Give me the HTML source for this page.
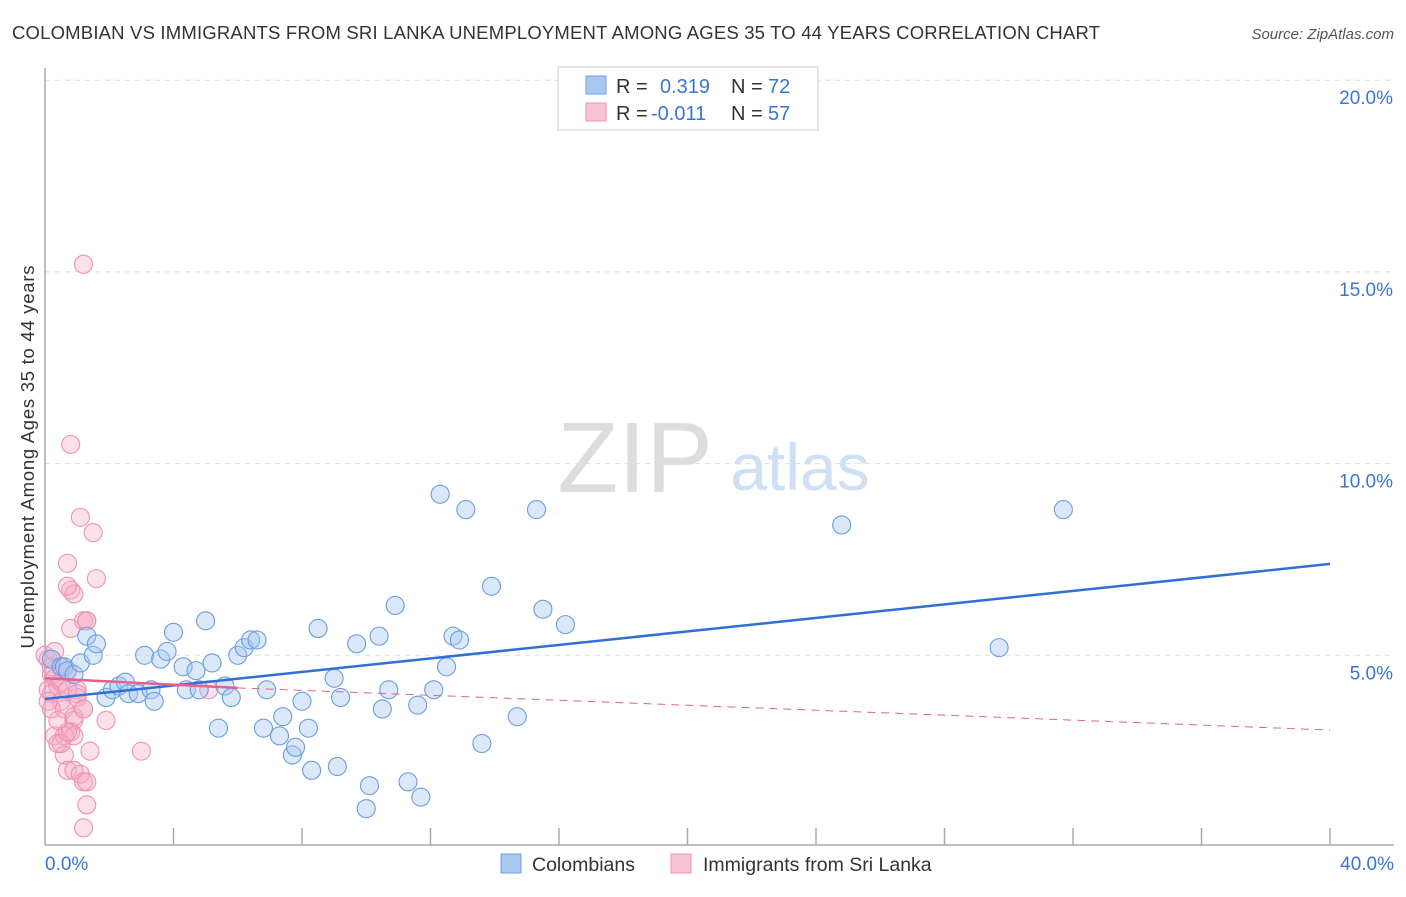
<!DOCTYPE html>
<html><head><meta charset="utf-8"><style>
body{margin:0;background:#fff;font-family:"Liberation Sans",sans-serif;}
svg text{font-family:"Liberation Sans",sans-serif;}
</style></head><body>
<svg id="chart" width="1406" height="892">
<text x="12" y="39" font-size="18.5" fill="#333" textLength="1088">COLOMBIAN VS IMMIGRANTS FROM SRI LANKA UNEMPLOYMENT AMONG AGES 35 TO 44 YEARS CORRELATION CHART</text>
<text x="1394" y="39" font-size="15" fill="#555" font-style="italic" text-anchor="end">Source: ZipAtlas.com</text>
<text x="635" y="492" font-size="100" fill="#ddd" font-family="Liberation Serif" text-anchor="middle">ZIP</text>
<text x="800" y="490" font-size="66" fill="#cfe0f5" text-anchor="middle">atlas</text>
<g id="grid"></g><g id="axes"></g><g id="marks"></g>
<text transform="translate(34,457) rotate(-90)" font-size="18.5" fill="#333" text-anchor="middle" textLength="383">Unemployment Among Ages 35 to 44 years</text>
<g>
<rect x="558" y="67" width="260" height="63" fill="#fff" stroke="#ccc"/>
<rect x="586" y="76" width="20" height="18" fill="#a9c8f0" stroke="#6f9fe0"/>
<rect x="586" y="103" width="20" height="18" fill="#f8c3d3" stroke="#eb93b1"/>
<text x="616" y="93" font-size="20" fill="#333">R =</text><text x="660" y="93" font-size="20" fill="#3a74d8">0.319</text>
<text x="731" y="93" font-size="20" fill="#333">N =</text><text x="768" y="93" font-size="20" fill="#3a74d8">72</text>
<text x="616" y="120" font-size="20" fill="#333">R =</text><text x="651" y="120" font-size="20" fill="#3a74d8">-0.011</text>
<text x="731" y="120" font-size="20" fill="#333">N =</text><text x="768" y="120" font-size="20" fill="#3a74d8">57</text>
</g>
<g>
<rect x="501" y="854" width="20" height="19" fill="#a9c8f0" stroke="#6f9fe0"/>
<text x="532" y="871" font-size="19.5" fill="#333">Colombians</text>
<rect x="671" y="854" width="20" height="19" fill="#f8c3d3" stroke="#eb93b1"/>
<text x="703" y="871" font-size="19.5" fill="#333">Immigrants from Sri Lanka</text>
</g>
</svg>
<script>
const blueX=[0.2,0.5,0.6,0.7,0.9,1.1,1.3,1.5,1.6,1.9,2.1,2.3,2.5,2.6,2.9,3.1,3.3,3.4,3.6,3.8,4.0,4.3,4.4,4.7,4.8,5.0,5.2,5.4,5.6,5.8,6.0,6.2,6.4,6.6,6.8,6.9,7.3,7.4,7.7,7.8,8.0,8.2,8.3,8.5,9.0,9.1,9.2,9.7,10.0,10.1,10.4,10.5,10.7,10.9,11.3,11.6,11.7,12.1,12.3,12.5,12.7,12.9,13.1,13.6,13.9,14.7,15.3,15.5,16.2,24.8,29.7,31.7];
const blueY=[4.9,4.7,4.7,4.6,4.5,4.8,5.5,5.0,5.3,3.9,4.1,4.2,4.3,4.0,4.0,5.0,4.1,3.8,4.9,5.1,5.6,4.7,4.1,4.6,4.1,5.9,4.8,3.1,4.2,3.9,5.0,5.2,5.4,5.4,3.1,4.1,2.9,3.4,2.4,2.6,3.8,3.1,2.0,5.7,4.4,2.1,3.9,5.3,1.0,1.6,5.5,3.6,4.1,6.3,1.7,3.7,1.3,4.1,9.2,4.7,5.5,5.4,8.8,2.7,6.8,3.4,8.8,6.2,5.8,8.4,5.2,8.8];
const pinkX=[0,0.1,0.2,0.2,0.3,0.4,0.1,0.2,0.5,0.5,0.6,0.7,0.8,0.8,0.9,0.7,0.8,0.9,0.9,1.0,1.0,1.1,1.2,1.2,1.3,1.3,1.5,1.6,0.6,0.8,0.9,0.6,0.7,0.9,1.1,1.2,1.3,1.3,1.2,1.4,1.9,3.0,5.1,0.3,0.4,0.5,0.7,0.2,0.4,0.5,0.7,1.0,1.2,1.2,0.7,0.3,0.1];
const pinkY=[5.0,4.9,4.7,4.5,4.4,4.2,4.1,4.0,4.7,3.8,3.6,4.6,10.5,6.7,6.6,7.4,5.7,3.3,3.4,4.1,3.9,8.6,15.2,5.9,5.9,5.9,8.2,7.0,2.9,3.0,2.9,2.4,2.0,2.0,1.9,1.7,1.7,1.1,0.5,2.5,3.3,2.5,4.1,2.9,2.7,2.7,3.0,3.6,3.3,4.3,4.1,4.0,3.6,3.6,6.8,5.1,3.8];
const pinkTrendX=[0,6,40];
const pinkTrendY=[4.4,4.15,3.05];
const yTicks=[5,10,15,20];
const xTickVals=[4,8,12,16,20,24,28,32,36,40];
const NS='http://www.w3.org/2000/svg';
const sx=v=>45+v/40*1285;
const sy=v=>847-v/5*191.7;
function mk(tag,attrs,parent){const e=document.createElementNS(NS,tag);for(const k in attrs)e.setAttribute(k,attrs[k]);parent.appendChild(e);return e;}
const grid=document.getElementById('grid'),axes=document.getElementById('axes'),marks=document.getElementById('marks');
yTicks.forEach(t=>{
 const l=mk('line',{x1:45,x2:1394,y1:sy(t),y2:sy(t),stroke:'#ddd','stroke-dasharray':'5,5'},grid);
 
 
 const tx=mk('text',{x:1393,y:sy(t)+24,'font-size':19,fill:'#3a74d8','text-anchor':'end'},axes);
 tx.textContent=t.toFixed(1)+'%';
 
 
});
const ya=mk('line',{x1:45,x2:45,y1:68,y2:845,stroke:'#aaa','stroke-width':1.5},axes);


const xa=mk('line',{x1:45,x2:1394,y1:845,y2:845,stroke:'#aaa','stroke-width':1.5},axes);


xTickVals.forEach(t=>{
 const l=mk('line',{x1:sx(t),x2:sx(t),y1:828,y2:845,stroke:'#aaa','stroke-width':1.5},axes);
 
 
});
const x0=mk('text',{x:45,y:870,'font-size':19,fill:'#3a74d8'},axes);x0.textContent='0.0%';


const x1=mk('text',{x:1394,y:870,'font-size':19,fill:'#3a74d8','text-anchor':'end'},axes);x1.textContent='40.0%';


function dots(X,Y,fill,stroke,name){X.forEach((x,i)=>{
 const c=mk('circle',{cx:sx(x),cy:sy(Y[i]),r:9,fill:fill,stroke:stroke,'stroke-width':1.1},marks);
 
 
});}
function fit(X,Y){const n=X.length;let mx=0,my=0;X.forEach((x,i)=>{mx+=x;my+=Y[i];});mx/=n;my/=n;let a=0,b=0;X.forEach((x,i)=>{a+=(x-mx)*(Y[i]-my);b+=(x-mx)*(x-mx);});const s=a/b;return x=>my+s*(x-mx);}
dots(pinkX,pinkY,'rgba(245,170,195,0.35)','#ec92b2','point-sri-lanka');
dots(blueX,blueY,'rgba(165,198,240,0.4)','#6a9de0','point-colombian');
const fb=fit(blueX,blueY);
const tb=mk('line',{x1:sx(0),y1:sy(fb(0)),x2:sx(40),y2:sy(fb(40)),stroke:'#2f6fd6','stroke-width':2.5},marks);


const tp=mk('line',{x1:sx(pinkTrendX[0]),y1:sy(pinkTrendY[0]),x2:sx(pinkTrendX[1]),y2:sy(pinkTrendY[1]),stroke:'#e8608e','stroke-width':2.5},marks);


const tpd=mk('line',{x1:sx(pinkTrendX[1]),y1:sy(pinkTrendY[1]),x2:sx(pinkTrendX[2]),y2:sy(pinkTrendY[2]),stroke:'#e8608e','stroke-width':1,'stroke-dasharray':'8,6'},marks);


</script>
</body></html>
